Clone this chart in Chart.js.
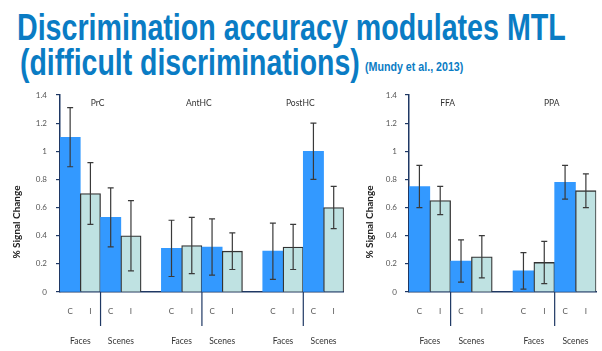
<!DOCTYPE html>
<html>
<head>
<meta charset="utf-8">
<script src="https://cdn.jsdelivr.net/npm/chart.js@4"></script>
<style>
  body { margin: 0; width: 602px; height: 351px; background: #fff; overflow: hidden; position: relative; font-family: "Liberation Sans", Arial, sans-serif; }
  .title { position: absolute; color: #0a7cc4; font-weight: bold; white-space: nowrap; transform-origin: 0 0; transform: scaleX(0.78); }
  #t1 { left: 17px; top: 7px; font-size: 36px; transform: scaleX(0.795); }
  #t2 { left: 20px; top: 42px; font-size: 36px; transform: scaleX(0.79); }
  #t3 { left: 365px; top: 59px; font-size: 13px; transform: scaleX(0.82); }
  .panel { position: absolute; top: 80px; height: 271px; }
  #left-wrap { left: 0; width: 350px; }
  #right-wrap { left: 355px; width: 247px; }
</style>
</head>
<body>
<div class="title" id="t1">Discrimination accuracy modulates MTL</div>
<div class="title" id="t2">(difficult discriminations)</div>
<div class="title" id="t3">(Mundy et al., 2013)</div>
<div class="panel" id="left-wrap"><canvas id="left-chart"></canvas></div>
<div class="panel" id="right-wrap"><canvas id="right-chart"></canvas></div>
<script>
// values: per region, order = Faces C, Faces I, Scenes C, Scenes I
const leftRegions = ['PrC', 'AntHC', 'PostHC'];
const leftMeans = [
  [1.10, 0.70, 0.53, 0.40],
  [0.31, 0.33, 0.32, 0.29],
  [0.29, 0.32, 1.00, 0.60]
];
const leftErrors = [
  [0.21, 0.22, 0.21, 0.25],
  [0.20, 0.20, 0.20, 0.13],
  [0.20, 0.16, 0.20, 0.15]
];

const rightRegions = ['FFA', 'PPA'];
const rightMeans = [
  [0.75, 0.65, 0.22, 0.25],
  [0.15, 0.21, 0.78, 0.72]
];
const rightErrors = [
  [0.15, 0.10, 0.15, 0.15],
  [0.13, 0.15, 0.12, 0.12]
];

const barLabels = ['C', 'I', 'C', 'I'];
const stimulusLabels = ['Faces', 'Scenes'];
const yTicks = [0, 0.2, 0.4, 0.6, 0.8, 1, 1.2, 1.4];
const yTitle = '% Signal Change';

const blue = '#3399ff';
const pale = '#bfe2e2';
const navy = '#1f3864';
const textGrey = '#555555';
const fontFamily = 'Lato, "Open Sans", sans-serif';

// flatten groups, with an empty slot between regions
function flatten(groups, filler) {
  let out = [];
  groups.forEach((g, i) => {
    if (i > 0) out.push(filler);
    out = out.concat(g);
  });
  return out;
}

function makePanel(canvasId, regions, means, errors, opts) {
  const values = flatten(means, null);
  const errs = flatten(errors, null);
  const labels = flatten(regions.map(() => barLabels), '');
  const colors = labels.map(l => l === 'C' ? blue : pale);
  const borders = labels.map(l => l === 'I' ? 1.3 : 0);

  const panelPlugin = {
    id: 'panelExtras',
    afterDatasetsDraw(chart) {
      const ctx = chart.ctx;
      const y = chart.scales.y;
      const meta = chart.getDatasetMeta(0);
      ctx.save();
      ctx.strokeStyle = '#3a3a3a';
      ctx.lineWidth = 1.2;
      values.forEach((v, i) => {
        if (v === null) return;
        const x = meta.data[i].x;
        const top = y.getPixelForValue(v + errs[i]);
        const bot = y.getPixelForValue(v - errs[i]);
        ctx.beginPath();
        ctx.moveTo(x, top); ctx.lineTo(x, bot);
        ctx.moveTo(x - 3, top); ctx.lineTo(x + 3, top);
        ctx.moveTo(x - 3, bot); ctx.lineTo(x + 3, bot);
        ctx.stroke();
      });
      ctx.restore();
    },
    afterDraw(chart) {
      const ctx = chart.ctx;
      const area = chart.chartArea;
      const meta = chart.getDatasetMeta(0);
      ctx.save();
      ctx.textAlign = 'center';
      ctx.textBaseline = 'middle';
      regions.forEach((name, r) => {
        const first = r * 5;
        const xs = [0, 1, 2, 3].map(k => meta.data[first + k].x);
        ctx.fillStyle = '#333';
        ctx.font = '8.5px ' + fontFamily;
        ctx.fillText(name, (xs[0] + xs[3]) / 2 - 3, area.top + 8);
        // faces / scenes divider
        const sep = (xs[1] + xs[2]) / 2;
        ctx.strokeStyle = navy;
        ctx.lineWidth = 1.2;
        ctx.beginPath();
        ctx.moveTo(sep, area.bottom);
        ctx.lineTo(sep, area.bottom + 34);
        ctx.stroke();
        ctx.fillStyle = '#333';
        ctx.font = '8.5px ' + fontFamily;
        ctx.fillText(stimulusLabels[0], (xs[0] + xs[1]) / 2, area.bottom + 49);
        ctx.fillText(stimulusLabels[1], (xs[2] + xs[3]) / 2, area.bottom + 49);
      });
      // y axis title
      ctx.translate(opts.titleX, area.bottom - 70);
      ctx.rotate(-Math.PI / 2);
      ctx.fillStyle = '#222';
      ctx.font = 'bold 10px ' + fontFamily;
      ctx.fillText(yTitle, 0, 0);
      ctx.restore();
    }
  };

  return new Chart(document.getElementById(canvasId), {
    type: 'bar',
    data: {
      labels: labels,
      datasets: [{
        data: values,
        backgroundColor: colors,
        borderColor: '#333333',
        borderWidth: borders,
        barPercentage: 1,
        categoryPercentage: 1
      }]
    },
    options: {
      responsive: true,
      maintainAspectRatio: false,
      animation: false,
      layout: { padding: { top: 15, right: opts.padRight, left: 0, bottom: 0 } },
      plugins: { legend: { display: false }, tooltip: { enabled: false } },
      scales: {
        x: {
          grid: { display: false, drawTicks: false },
          border: { display: true, color: navy, width: 1.5 },
          ticks: { autoSkip: false, maxRotation: 0, padding: 15, color: textGrey, font: { family: fontFamily, size: 8 } },
          afterFit: s => { s.height = 59; }
        },
        y: {
          min: 0,
          max: 1.4,
          grid: { display: true, drawOnChartArea: false, drawTicks: true, tickLength: 4, color: navy, lineWidth: 1.2 },
          border: { display: true, color: navy, width: 1.5 },
          ticks: { padding: opts.tickPad, color: textGrey, font: { family: fontFamily, size: 8 }, callback: v => String(v) },
          afterBuildTicks: s => { s.ticks = yTicks.map(v => ({ value: v })); },
          afterFit: s => { s.width = opts.axisWidth; }
        }
      }
    },
    plugins: [panelPlugin]
  });
}

makePanel('left-chart', leftRegions, leftMeans, leftErrors, { axisWidth: 60, padRight: 5, tickPad: 9, titleX: 17 });
makePanel('right-chart', rightRegions, rightMeans, rightErrors, { axisWidth: 54, padRight: 0, tickPad: 8, titleX: 15 });
</script>
</body>
</html>
